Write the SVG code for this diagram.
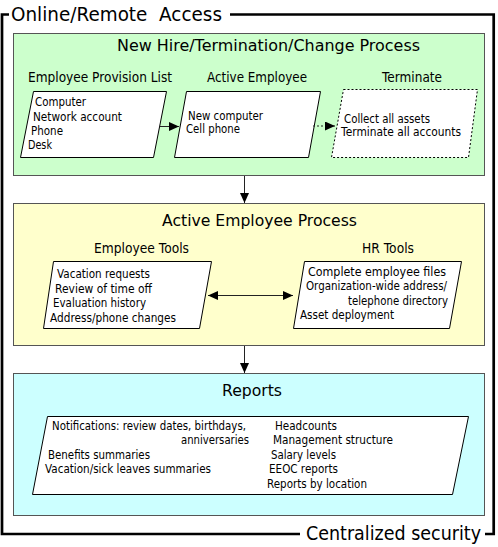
<svg xmlns="http://www.w3.org/2000/svg" width="498" height="547" viewBox="0 0 498 547">
<style>
text{font-family:"DejaVu Sans","Liberation Sans",sans-serif;fill:#000}
.frame{fill:none;stroke:#000;stroke-width:2.7}
.box{stroke:#555;stroke-width:1}
.para{fill:#fff;stroke:#000;stroke-width:1}
.dash{fill:#fff;stroke:#000;stroke-width:1;stroke-dasharray:2,2}
.big{font-size:19.5px}
.title{font-size:16px}
.sub{font-size:13.5px}
.body{font-size:11.5px}
.conn{fill:none;stroke:#222;stroke-width:1}
</style>
<defs>
<marker id="ah" viewBox="0 0 10 9" refX="10" refY="4.5" markerWidth="10" markerHeight="9" markerUnits="userSpaceOnUse" orient="auto-start-reverse">
<path d="M0,0L10,4.5L0,9z" fill="#000"/>
</marker>
</defs>
<g id="frame">
<polyline class="frame" points="9,14.5 2,14.5 2,534 300,534"/>
<polyline class="frame" points="230,14.5 493.7,14.5 493.7,534 485,534"/>
<text class="big" x="11" y="21" textLength="211" lengthAdjust="spacingAndGlyphs" xml:space="preserve">Online/Remote  Access</text>
<text class="big" x="306" y="539.5" textLength="175" lengthAdjust="spacingAndGlyphs">Centralized security</text>
</g>
<g id="new-hire">
<rect class="box" x="13.5" y="33.5" width="471" height="142" fill="#ccffcc"/>
<text class="title" x="117" y="51" textLength="303" lengthAdjust="spacingAndGlyphs">New Hire/Termination/Change Process</text>
</g>
<g id="provision-list">
<text class="sub" x="28" y="82" textLength="144" lengthAdjust="spacingAndGlyphs">Employee Provision List</text>
<polygon class="para" points="33.5,91.5 166.5,91.5 153.5,157.5 20.5,157.5"/>
<text class="body" x="35" y="106" textLength="51" lengthAdjust="spacingAndGlyphs">Computer</text>
<text class="body" x="33" y="120.5" textLength="89" lengthAdjust="spacingAndGlyphs">Network account</text>
<text class="body" x="31" y="134.5" textLength="32" lengthAdjust="spacingAndGlyphs">Phone</text>
<text class="body" x="28" y="149" textLength="24" lengthAdjust="spacingAndGlyphs">Desk</text>
</g>
<g id="active-employee">
<text class="sub" x="207" y="82" textLength="100" lengthAdjust="spacingAndGlyphs">Active Employee</text>
<polygon class="para" points="186.5,91.5 320.5,91.5 308.5,157.5 174.5,157.5"/>
<text class="body" x="188" y="120" textLength="75" lengthAdjust="spacingAndGlyphs">New computer</text>
<text class="body" x="186" y="133" textLength="54" lengthAdjust="spacingAndGlyphs">Cell phone</text>
</g>
<g id="terminate">
<text class="sub" x="382" y="81.5" textLength="60" lengthAdjust="spacingAndGlyphs">Terminate</text>
<polygon class="dash" points="343.5,89.5 477.5,89.5 468.5,157.5 331.5,157.5"/>
<text class="body" x="344" y="122.5" textLength="86" lengthAdjust="spacingAndGlyphs">Collect all assets</text>
<text class="body" x="341" y="135.5" textLength="120" lengthAdjust="spacingAndGlyphs">Terminate all accounts</text>
</g>
<g id="active-process">
<rect class="box" x="13.5" y="203.5" width="471" height="142" fill="#ffffcc"/>
<text class="title" x="162" y="226" textLength="195" lengthAdjust="spacingAndGlyphs">Active Employee Process</text>
</g>
<g id="employee-tools">
<text class="sub" x="94" y="252.5" textLength="95" lengthAdjust="spacingAndGlyphs">Employee Tools</text>
<polygon class="para" points="53.5,261.5 211.5,261.5 199.5,328.5 43.5,328.5"/>
<text class="body" x="57" y="278" textLength="93" lengthAdjust="spacingAndGlyphs">Vacation requests</text>
<text class="body" x="55" y="292.5" textLength="97" lengthAdjust="spacingAndGlyphs">Review of time off</text>
<text class="body" x="53" y="307" textLength="93" lengthAdjust="spacingAndGlyphs">Evaluation history</text>
<text class="body" x="50" y="321.5" textLength="126" lengthAdjust="spacingAndGlyphs">Address/phone changes</text>
</g>
<g id="hr-tools">
<text class="sub" x="362" y="252.5" textLength="52" lengthAdjust="spacingAndGlyphs">HR Tools</text>
<polygon class="para" points="304.5,261.5 461.5,261.5 449.5,328.5 293.5,328.5"/>
<text class="body" x="308" y="276" textLength="138" lengthAdjust="spacingAndGlyphs">Complete employee files</text>
<text class="body" x="306" y="290" textLength="141" lengthAdjust="spacingAndGlyphs">Organization-wide address/</text>
<text class="body" x="348" y="304.5" textLength="100" lengthAdjust="spacingAndGlyphs">telephone directory</text>
<text class="body" x="300" y="319" textLength="94" lengthAdjust="spacingAndGlyphs">Asset deployment</text>
</g>
<g id="reports">
<rect class="box" x="13.5" y="373.5" width="471" height="142" fill="#ccffff"/>
<text class="title" x="222" y="396" textLength="60" lengthAdjust="spacingAndGlyphs">Reports</text>
<polygon class="para" points="47.5,416.5 468.5,416.5 452.5,494.5 32.5,494.5"/>
<text class="body" x="52" y="430" textLength="194" lengthAdjust="spacingAndGlyphs">Notifications: review dates, birthdays,</text>
<text class="body" x="181" y="444" textLength="68" lengthAdjust="spacingAndGlyphs">anniversaries</text>
<text class="body" x="48" y="459" textLength="102" lengthAdjust="spacingAndGlyphs">Benefits summaries</text>
<text class="body" x="45" y="473" textLength="166" lengthAdjust="spacingAndGlyphs">Vacation/sick leaves summaries</text>
<text class="body" x="275" y="430" textLength="62" lengthAdjust="spacingAndGlyphs">Headcounts</text>
<text class="body" x="273" y="444" textLength="120" lengthAdjust="spacingAndGlyphs">Management structure</text>
<text class="body" x="271" y="459" textLength="65" lengthAdjust="spacingAndGlyphs">Salary levels</text>
<text class="body" x="269" y="473" textLength="69" lengthAdjust="spacingAndGlyphs">EEOC reports</text>
<text class="body" x="267" y="488" textLength="100" lengthAdjust="spacingAndGlyphs">Reports by location</text>
</g>
<g id="connectors">
<line class="conn" x1="160" y1="126.5" x2="179" y2="126.5" marker-end="url(#ah)"/>
<line class="conn" x1="313" y1="126" x2="335" y2="126" stroke-dasharray="2,2" marker-end="url(#ah)"/>
<line class="conn" x1="244.5" y1="176" x2="244.5" y2="203" marker-end="url(#ah)"/>
<line class="conn" x1="208" y1="295.5" x2="293" y2="295.5" marker-start="url(#ah)" marker-end="url(#ah)"/>
<line class="conn" x1="244.5" y1="346" x2="244.5" y2="373" marker-end="url(#ah)"/>
</g>
</svg>
